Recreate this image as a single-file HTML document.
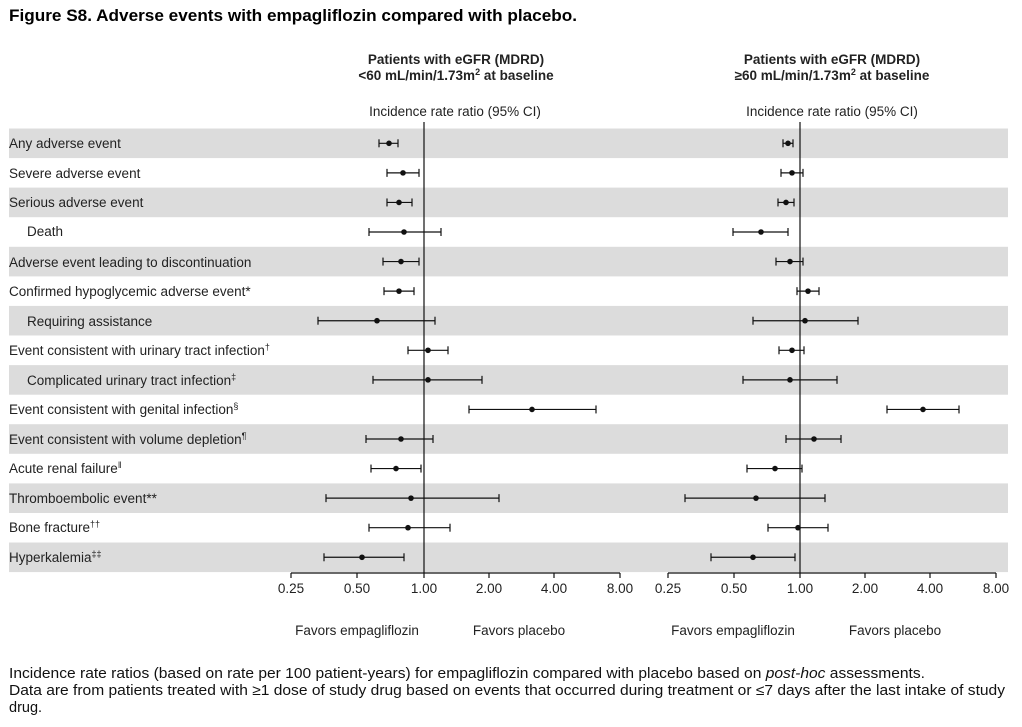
<!DOCTYPE html>
<html><head><meta charset="utf-8"><style>
body{margin:0;background:#fff;}
svg{display:block;font-family:"Liberation Sans",Arial,sans-serif;}
</style></head><body>
<svg width="1022" height="727" viewBox="0 0 1022 727" xmlns="http://www.w3.org/2000/svg">
<text x="9" y="21" font-size="16.5" font-weight="bold" textLength="568" lengthAdjust="spacingAndGlyphs">Figure S8. Adverse events with empagliflozin compared with placebo.</text>
<g font-size="13.5" font-weight="bold" text-anchor="middle" fill="#222">
<text x="456" y="64">Patients with eGFR (MDRD)</text>
<text x="456" y="80">&lt;60 mL/min/1.73m<tspan font-size="9" dy="-5">2</tspan><tspan dy="5"> at baseline</tspan></text>
<text x="832" y="64">Patients with eGFR (MDRD)</text>
<text x="832" y="80">≥60 mL/min/1.73m<tspan font-size="9" dy="-5">2</tspan><tspan dy="5"> at baseline</tspan></text>
</g>
<g font-size="13.5" text-anchor="middle" fill="#222">
<text x="455" y="116">Incidence rate ratio (95% CI)</text>
<text x="832" y="116">Incidence rate ratio (95% CI)</text>
</g>
<g id="bands" fill="#dcdcdc">
<rect x="9" y="128.5" width="999" height="29.6"/>
<rect x="9" y="187.6" width="999" height="29.6"/>
<rect x="9" y="246.8" width="999" height="29.6"/>
<rect x="9" y="305.9" width="999" height="29.6"/>
<rect x="9" y="365.1" width="999" height="29.6"/>
<rect x="9" y="424.2" width="999" height="29.6"/>
<rect x="9" y="483.4" width="999" height="29.6"/>
<rect x="9" y="542.5" width="999" height="29.6"/>
</g>
<g font-size="13.5" fill="#222">
<text x="9" y="148">Any adverse  event</text>
<text x="9" y="178">Severe  adverse  event</text>
<text x="9" y="207">Serious  adverse  event</text>
<text x="27" y="236">Death</text>
<text x="9" y="267">Adverse event leading to discontinuation</text>
<text x="9" y="296">Confirmed  hypoglycemic adverse  event*</text>
<text x="27" y="326">Requiring assistance</text>
<text x="9" y="355">Event consistent with urinary tract infection<tspan font-size="9" dy="-5">†</tspan></text>
<text x="27" y="385">Complicated urinary tract infection<tspan font-size="9" dy="-5">‡</tspan></text>
<text x="9" y="414">Event consistent with genital infection<tspan font-size="9" dy="-5">§</tspan></text>
<text x="9" y="444">Event consistent with volume  depletion<tspan font-size="9" dy="-5">¶</tspan></text>
<text x="9" y="473">Acute renal  failure<tspan font-size="9" dy="-5">‖</tspan></text>
<text x="9" y="503">Thromboembolic  event**</text>
<text x="9" y="532">Bone fracture<tspan font-size="9" dy="-5">††</tspan></text>
<text x="9" y="562">Hyperkalemia<tspan font-size="9" dy="-5">‡‡</tspan></text>
</g>
<g stroke="#111" stroke-width="1.2">
<line x1="424" y1="122" x2="424" y2="573"/>
<line x1="800" y1="122" x2="800" y2="573"/>
<line x1="291" y1="573" x2="620" y2="573"/>
<line x1="668" y1="573" x2="996" y2="573"/>
<path d="M291 573v5M357 573v5M424 573v5M489 573v5M554 573v5M620 573v5M668 573v5M734 573v5M800 573v5M865 573v5M930 573v5M996 573v5"/>
</g>
<g font-size="13.5" text-anchor="middle" fill="#222">
<text x="291" y="593">0.25</text><text x="357" y="593">0.50</text><text x="424" y="593">1.00</text><text x="489" y="593">2.00</text><text x="554" y="593">4.00</text><text x="620" y="593">8.00</text>
<text x="668" y="593">0.25</text><text x="734" y="593">0.50</text><text x="800" y="593">1.00</text><text x="865" y="593">2.00</text><text x="930" y="593">4.00</text><text x="996" y="593">8.00</text>
<text x="357" y="635">Favors empagliflozin</text><text x="519" y="635">Favors placebo</text>
<text x="733" y="635">Favors empagliflozin</text><text x="895" y="635">Favors placebo</text>
</g>
<g id="ci" stroke="#111" stroke-width="1.2" fill="#111"></g>
<g font-size="14.5" fill="#111">
<text x="9" y="678" textLength="916" lengthAdjust="spacingAndGlyphs">Incidence rate ratios (based on rate per 100 patient-years) for empagliflozin compared with placebo based on <tspan font-style="italic">post-hoc</tspan> assessments.</text>
<text x="9" y="695" textLength="996" lengthAdjust="spacingAndGlyphs">Data are from patients treated with ≥1 dose of study drug based on events that occurred during treatment or ≤7 days after the last intake of study</text>
<text x="9" y="712">drug.</text>
</g>
</svg>
<script>
var L=[[379,389,398],[387,403,419],[387,399,412],[369,404,441],[383,401,419],[384,399,414],[318,377,435],[408,428,448],[373,428,482],[469,532,596],[366,401,433],[371,396,421],[326,411,499],[369,408,450],[324,362,404]];
var R=[[783,788,793],[781,792,803],[778,786,794],[733,761,788],[776,790,803],[797,808,819],[753,805,858],[779,792,804],[743,790,837],[887,923,959],[786,814,841],[747,775,802],[685,756,825],[768,798,828],[711,753,795]];
var g=document.getElementById('ci'),s='';
[L,R].forEach(function(A){A.forEach(function(d,i){var y=143.3+i*29.57;
s+='<line x1="'+d[0]+'" y1="'+y+'" x2="'+d[2]+'" y2="'+y+'"/>';
s+='<line x1="'+d[0]+'" y1="'+(y-4)+'" x2="'+d[0]+'" y2="'+(y+4)+'"/>';
s+='<line x1="'+d[2]+'" y1="'+(y-4)+'" x2="'+d[2]+'" y2="'+(y+4)+'"/>';
s+='<circle cx="'+d[1]+'" cy="'+y+'" r="2.8" stroke="none"/>';});});
g.innerHTML=s;
</script>
</body></html>
